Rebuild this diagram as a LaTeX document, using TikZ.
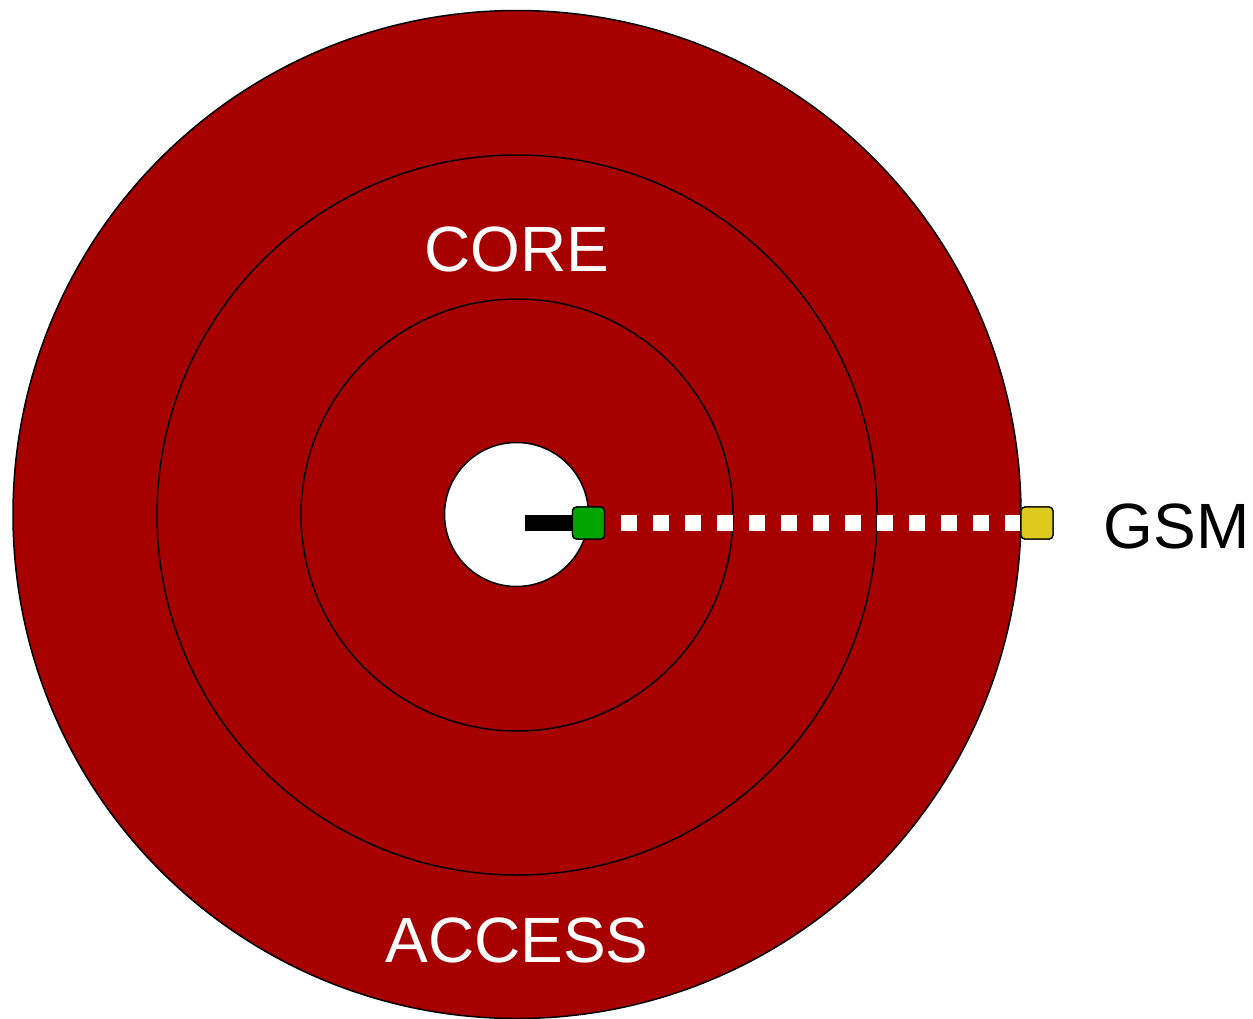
\documentclass[tikz,border=0pt]{standalone}
\usepackage{fontspec}
\setmainfont{Liberation Sans}
\begin{document}
\begin{tikzpicture}[x=1pt,y=-1pt,
  ring/.style={circle, draw=black, line width=1.5pt, fill=ringred, inner sep=0pt, minimum size=#1},
  port/.style={rounded corners=4pt, draw=black, line width=1.3pt, minimum size=32pt, inner sep=0pt},
  lbl/.style={font=\fontsize{64}{70}\selectfont, inner sep=0pt}]
\definecolor{ringred}{RGB}{166,0,0}
\definecolor{portgreen}{RGB}{0,165,0}
\definecolor{portyellow}{RGB}{222,202,28}
\useasboundingbox (0,0) rectangle (1253,1018);
% concentric rings
\node[ring=1008pt] (outer) at (517,514.5) {};
\node[ring=720pt] (mid) at (517,515) {};
\node[ring=432pt] (inner) at (517,515) {};
\node[ring=144pt, fill=white] (hub) at (516.5,514.5) {};
% ports and links
\coordinate (barstart) at (525,523);
\node[port, fill=portgreen] (green) at (588.5,523) {};
\node[port, fill=portyellow] (yellow) at (1037,523) {};
\draw[line width=16pt] (barstart) -- (green.west);
\node[port, fill=portgreen] at (green) {};
\draw[white, line width=16pt, dash pattern=on 16pt off 16pt, dash phase=16pt] (green.east) -- (yellow.west);
\node[port, fill=portyellow] at (yellow) {};
% labels
\node[lbl, white] (core) at (516.5,249) {CORE};
\node[lbl, white] (access) at (517,940.5) {ACCESS};
\node[lbl] (gsm) at (1176.5,526) {GSM};
\end{tikzpicture}
\end{document}
